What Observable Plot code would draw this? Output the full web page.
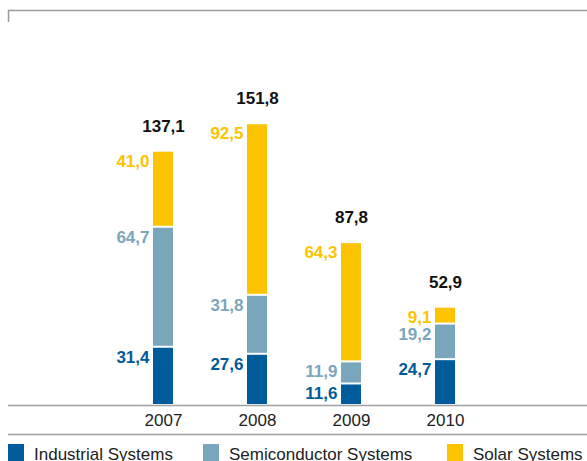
<!DOCTYPE html>
<html>
<head>
<meta charset="utf-8">
<script src="https://cdn.jsdelivr.net/npm/d3@7"></script>
<script src="https://cdn.jsdelivr.net/npm/@observablehq/plot@0.6"></script>
<style>
  html, body { margin: 0; padding: 0; background: #fff; }
  body { width: 587px; height: 461px; overflow: hidden; font-family: "Liberation Sans", Arial, sans-serif; }
  #legend { position: relative; height: 21px; margin-top: 4px; }
  .item { position: absolute; top: 0; display: flex; align-items: flex-start; font-size: 17px; color: #222; line-height: 19px; white-space: nowrap; }
  .item span { padding-top: 1px; }
  .sw { width: 16px; height: 20px; margin-right: 10px; }
</style>
</head>
<body>
<div id="chart"></div>
<div id="legend"></div>
<script>
const years = ["2007", "2008", "2009", "2010"];
const seriesNames = ["Industrial Systems", "Semiconductor Systems", "Solar Systems"];
const seriesColors = ["#005b9a", "#7aa6bc", "#fcc400"];
const industrial = [31.4, 27.6, 11.6, 24.7];
const semiconductor = [64.7, 31.8, 11.9, 19.2];
const solar = [41.0, 92.5, 64.3, 9.1];
const totals = [137.1, 151.8, 87.8, 52.9];

const seriesValues = [industrial, semiconductor, solar];
const data = [];
years.forEach((yr, i) => {
  seriesNames.forEach((s, j) => data.push({year: yr, series: s, value: seriesValues[j][i]}));
});
const totalData = years.map((yr, i) => ({year: yr, total: totals[i]}));
const fmt = v => v.toFixed(1).replace(".", ",");

const W = 587, H = 440;
const axisPx = 405;
const pxPerUnit = 1.855;
const yTop = 200;
const marginBottom = H - axisPx;
const marginTop = axisPx - yTop * pxPerUnit;
const valAt = py => (axisPx - py) / pxPerUnit;

const chart = Plot.plot({
  width: W,
  height: H,
  marginLeft: 8,
  marginRight: 0,
  marginTop,
  marginBottom,
  style: {fontFamily: "'Liberation Sans', Arial, sans-serif", background: "#fff", overflow: "visible"},
  x: {type: "band", domain: years, range: [116, 492], padding: 0, axis: null},
  y: {domain: [0, yTop], axis: null},
  color: {domain: seriesNames, range: seriesColors},
  marks: [
    Plot.barY(data, {x: "year", y: "value", fill: "series", insetLeft: 37, insetRight: 37, insetTop: 1, insetBottom: 1}),
    Plot.text(data, Plot.stackY2({x: "year", y: "value", fill: "series", text: d => fmt(d.value),
      textAnchor: "end", dx: -14, dy: 10, fontSize: 17, fontWeight: "bold"})),
    Plot.text(totalData, {x: "year", y: "total", text: d => fmt(d.total), dy: -25,
      fontSize: 17, fontWeight: "bold", fill: "#111"}),
    Plot.text(years, {x: d => d, y: 0, text: d => d, dy: 15, fontSize: 17, fill: "#222"}),
    Plot.ruleY([0], {stroke: "#a0a0a0", strokeWidth: 1.5}),
    Plot.ruleY([0], {stroke: "#a0a0a0", strokeWidth: 1.5, dy: 29}),
    Plot.ruleY([valAt(10)], {stroke: "#9a9a9a", strokeWidth: 1.5}),
    Plot.ruleX(["2007"], {x: d => d, y1: valAt(10), y2: valAt(22), dx: -155, stroke: "#9a9a9a", strokeWidth: 1.5})
  ]
});
document.getElementById("chart").appendChild(chart);

const legend = document.getElementById("legend");
const lefts = [8, 203, 447];
seriesNames.forEach((s, j) => {
  const it = document.createElement("div");
  it.className = "item";
  it.style.left = lefts[j] + "px";
  const sw = document.createElement("div");
  sw.className = "sw";
  sw.style.background = seriesColors[j];
  const tx = document.createElement("span");
  tx.textContent = s;
  it.appendChild(sw); it.appendChild(tx);
  legend.appendChild(it);
});
</script>
</body>
</html>
